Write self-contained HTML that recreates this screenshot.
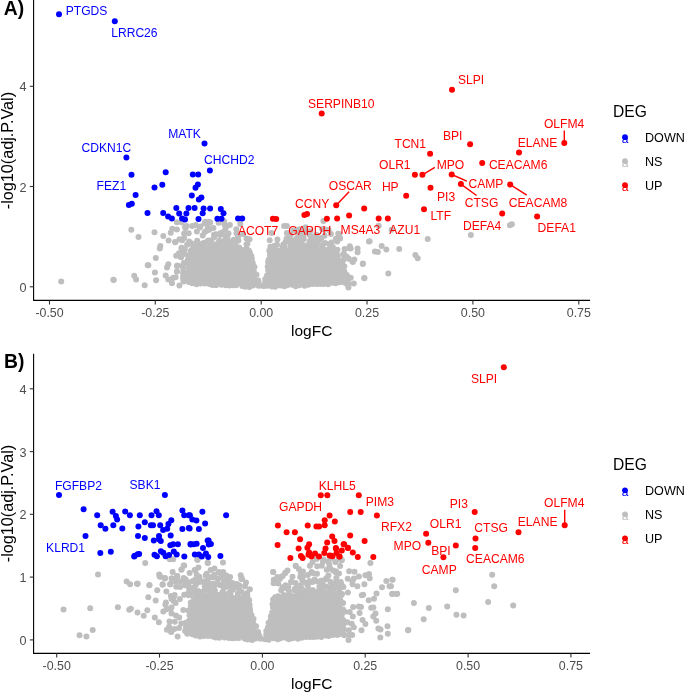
<!DOCTYPE html><html><head><meta charset="utf-8"><style>html,body{margin:0;padding:0;background:#fff;}svg{display:block;will-change:transform;}</style></head><body>
<svg width="685" height="692" viewBox="0 0 685 692" font-family="Liberation Sans, sans-serif">
<rect width="685" height="692" fill="#fff"/>
<g fill="#BEBEBE">
<path d="M186,279 L183.9,282.1 L184.2,282.1 L188.2,282.5 L192.2,282.9 L196.2,283.3 L200.2,283.6 L204.2,284 L208.2,284.3 L212.1,284.5 L216.1,284.8 L220.1,285 L224.1,285.2 L228.1,285.4 L232.1,285.6 L236.1,285.8 L240.1,285.9 L244.1,286 L248,286.1 L252,286.1 L256,286.2 L258.9,286.2 L257.1,278.6 L254.5,270.6 L252.6,262.4 L251.7,255.5 L250.1,251.2 L248.3,249.4 L244.1,250.2 L219.5,247.2 L213.4,245.1 L210.9,244.5 L208.9,247.2 L205.9,253.2 L200.8,259.2 L195.6,268.7 L188.7,271.7 L186,279 Z" fill="#BEBEBE"/>
<circle cx="185.8" cy="278.4" r="3.0"/><circle cx="183.6" cy="281.6" r="3.0"/><circle cx="188.8" cy="282" r="3.0"/><circle cx="192.1" cy="283.3" r="3.0"/><circle cx="196.5" cy="284.2" r="3.0"/><circle cx="200.5" cy="283.5" r="3.0"/><circle cx="204.8" cy="283.4" r="3.0"/><circle cx="209.4" cy="284" r="3.0"/><circle cx="212.4" cy="284.9" r="3.0"/><circle cx="216" cy="285.2" r="3.0"/><circle cx="221.5" cy="284.7" r="3.0"/><circle cx="225.8" cy="285.3" r="3.0"/><circle cx="229.5" cy="285.4" r="3.0"/><circle cx="232.8" cy="285.2" r="3.0"/><circle cx="236.1" cy="285.2" r="3.0"/><circle cx="242.2" cy="286" r="3.0"/><circle cx="245.2" cy="286.8" r="3.0"/><circle cx="249.5" cy="287" r="3.0"/><circle cx="253.1" cy="285.6" r="3.0"/><circle cx="258.3" cy="285.5" r="3.0"/><circle cx="258.8" cy="283.8" r="3.0"/><circle cx="258.3" cy="280.5" r="3.0"/><circle cx="256.5" cy="274.8" r="3.0"/><circle cx="253.9" cy="271.8" r="3.0"/><circle cx="254.5" cy="267.1" r="3.0"/><circle cx="252.8" cy="263.1" r="3.0"/><circle cx="251.9" cy="258.9" r="3.0"/><circle cx="251.4" cy="255.9" r="3.0"/><circle cx="249.8" cy="252.6" r="3.0"/><circle cx="246.8" cy="248.9" r="3.0"/><circle cx="243.2" cy="250" r="3.0"/><circle cx="240.1" cy="249.4" r="3.0"/><circle cx="235.9" cy="250" r="3.0"/><circle cx="230.8" cy="249.4" r="3.0"/><circle cx="227.7" cy="248.6" r="3.0"/><circle cx="223.6" cy="247.5" r="3.0"/><circle cx="218.6" cy="246.4" r="3.0"/><circle cx="214.9" cy="245.2" r="3.0"/><circle cx="210.9" cy="244.1" r="3.0"/><circle cx="209" cy="247.7" r="3.0"/><circle cx="207.7" cy="251.5" r="3.0"/><circle cx="204.2" cy="254.9" r="3.0"/><circle cx="201.7" cy="256.6" r="3.0"/><circle cx="199.6" cy="260.9" r="3.0"/><circle cx="197.1" cy="263.7" r="3.0"/><circle cx="195.8" cy="268.5" r="3.0"/><circle cx="192.5" cy="269.8" r="3.0"/><circle cx="188.7" cy="270.7" r="3.0"/><circle cx="188.2" cy="276" r="3.0"/>
<path d="M263.5,286.2 L264,286.2 L268,286.2 L272,286.1 L276,286.1 L279.9,286 L283.9,285.9 L287.9,285.7 L291.9,285.6 L295.9,285.4 L299.9,285.2 L303.9,285 L307.9,284.7 L311.8,284.5 L315.8,284.2 L319.8,283.9 L323.8,283.6 L327.8,283.2 L331.8,282.8 L335.8,282.4 L339.8,282 L343.8,281.6 L345.4,281.4 L344.3,276.3 L343.5,265.9 L337.9,260 L336.9,253 L334.8,250.9 L329.6,249.2 L314.9,249.2 L300,248.2 L290.3,249.2 L280.2,251.2 L274.8,251.2 L270.6,250.4 L269.6,251.1 L269.2,255.2 L268.8,262.2 L267.6,270.5 L265.3,278.5 L263.5,286.2 Z" fill="#BEBEBE"/>
<circle cx="264" cy="286" r="3.0"/><circle cx="267.4" cy="285.8" r="3.0"/><circle cx="271.9" cy="286.4" r="3.0"/><circle cx="275.2" cy="286.8" r="3.0"/><circle cx="280.1" cy="285.4" r="3.0"/><circle cx="284.3" cy="286.2" r="3.0"/><circle cx="287.2" cy="285.3" r="3.0"/><circle cx="292.2" cy="284.7" r="3.0"/><circle cx="295.6" cy="286.3" r="3.0"/><circle cx="299.3" cy="285.2" r="3.0"/><circle cx="304.6" cy="285.7" r="3.0"/><circle cx="308.4" cy="284.8" r="3.0"/><circle cx="312.7" cy="284" r="3.0"/><circle cx="316.6" cy="284" r="3.0"/><circle cx="320.2" cy="284.1" r="3.0"/><circle cx="323.5" cy="283.9" r="3.0"/><circle cx="328.1" cy="284.2" r="3.0"/><circle cx="332.3" cy="282.7" r="3.0"/><circle cx="335.7" cy="283.2" r="3.0"/><circle cx="339.6" cy="282.3" r="3.0"/><circle cx="344.3" cy="282.5" r="3.0"/><circle cx="344.2" cy="279.2" r="3.0"/><circle cx="343.5" cy="275.2" r="3.0"/><circle cx="344.2" cy="271.3" r="3.0"/><circle cx="344.3" cy="266.3" r="3.0"/><circle cx="342.1" cy="263.4" r="3.0"/><circle cx="338.4" cy="259.9" r="3.0"/><circle cx="337.6" cy="256" r="3.0"/><circle cx="336.5" cy="253.3" r="3.0"/><circle cx="334.3" cy="249.9" r="3.0"/><circle cx="330.5" cy="249.2" r="3.0"/><circle cx="325.4" cy="249.7" r="3.0"/><circle cx="322.4" cy="249.1" r="3.0"/><circle cx="317.9" cy="249.4" r="3.0"/><circle cx="314.1" cy="249.7" r="3.0"/><circle cx="310.4" cy="248.3" r="3.0"/><circle cx="304.9" cy="247.8" r="3.0"/><circle cx="301.4" cy="248.5" r="3.0"/><circle cx="298.7" cy="248.3" r="3.0"/><circle cx="293.5" cy="248.9" r="3.0"/><circle cx="290.7" cy="249.5" r="3.0"/><circle cx="285.4" cy="250.6" r="3.0"/><circle cx="282.9" cy="251.5" r="3.0"/><circle cx="277.7" cy="250.5" r="3.0"/><circle cx="273.8" cy="250.3" r="3.0"/><circle cx="269.3" cy="250.7" r="3.0"/><circle cx="270" cy="255" r="3.0"/><circle cx="268.8" cy="259.5" r="3.0"/><circle cx="268.1" cy="262.1" r="3.0"/><circle cx="267.7" cy="266.7" r="3.0"/><circle cx="268.3" cy="270.3" r="3.0"/><circle cx="267.1" cy="275.3" r="3.0"/><circle cx="265.3" cy="279.1" r="3.0"/><circle cx="265.2" cy="282.2" r="3.0"/>
<path d="M185.3,631.5 L187.2,634.2 L190.3,634.6 L194.3,635.1 L198.2,635.5 L202.2,636 L206.2,636.3 L210.2,636.7 L214.2,637 L218.2,637.4 L222.1,637.6 L226.1,637.9 L230.1,638.1 L234.1,638.3 L238.1,638.5 L242.1,638.7 L246.1,638.8 L250,638.9 L254,638.9 L258,639 L259.5,639 L256.4,628.7 L252.6,619.1 L250,610.6 L250.3,601 L249.1,600.1 L243.6,599.2 L235.9,597.2 L227.7,598.3 L219.9,595.3 L212.1,597.2 L204.4,596.3 L199.4,598.8 L194.9,604.2 L191,612.9 L187.1,622.6 L185.3,631.5 Z" fill="#BEBEBE"/>
<circle cx="185.1" cy="630.9" r="3.0"/><circle cx="187.3" cy="633.8" r="3.0"/><circle cx="192.4" cy="634.3" r="3.0"/><circle cx="195.7" cy="635.6" r="3.0"/><circle cx="200" cy="636.6" r="3.0"/><circle cx="203.8" cy="636" r="3.0"/><circle cx="208.1" cy="635.9" r="3.0"/><circle cx="212.7" cy="636.6" r="3.0"/><circle cx="215.6" cy="637.5" r="3.0"/><circle cx="219.2" cy="637.8" r="3.0"/><circle cx="224.5" cy="637.4" r="3.0"/><circle cx="228.7" cy="638.1" r="3.0"/><circle cx="232.4" cy="638.2" r="3.0"/><circle cx="235.7" cy="638" r="3.0"/><circle cx="238.9" cy="638" r="3.0"/><circle cx="244.9" cy="638.8" r="3.0"/><circle cx="247.8" cy="639.6" r="3.0"/><circle cx="252.1" cy="639.9" r="3.0"/><circle cx="255.6" cy="638.4" r="3.0"/><circle cx="260.3" cy="638" r="3.0"/><circle cx="258.9" cy="635" r="3.0"/><circle cx="258.1" cy="631.9" r="3.0"/><circle cx="256.1" cy="626.2" r="3.0"/><circle cx="253.4" cy="623.4" r="3.0"/><circle cx="253.5" cy="618.9" r="3.0"/><circle cx="251.5" cy="615.1" r="3.0"/><circle cx="250.1" cy="611.1" r="3.0"/><circle cx="249.7" cy="608.2" r="3.0"/><circle cx="249.6" cy="604.7" r="3.0"/><circle cx="248.7" cy="599.9" r="3.0"/><circle cx="245.2" cy="599.3" r="3.0"/><circle cx="242.3" cy="598.4" r="3.0"/><circle cx="238.3" cy="598.6" r="3.0"/><circle cx="233.2" cy="598.2" r="3.0"/><circle cx="230.2" cy="598.5" r="3.0"/><circle cx="226.3" cy="597.5" r="3.0"/><circle cx="221.6" cy="595.5" r="3.0"/><circle cx="217.9" cy="595" r="3.0"/><circle cx="214" cy="596" r="3.0"/><circle cx="210.9" cy="597.6" r="3.0"/><circle cx="207.4" cy="597.3" r="3.0"/><circle cx="202.2" cy="597.6" r="3.0"/><circle cx="198.7" cy="597.9" r="3.0"/><circle cx="196.4" cy="602" r="3.0"/><circle cx="193.6" cy="604.5" r="3.0"/><circle cx="192.6" cy="609.4" r="3.0"/><circle cx="191" cy="612.3" r="3.0"/><circle cx="189.5" cy="615.3" r="3.0"/><circle cx="189" cy="620.7" r="3.0"/><circle cx="187.4" cy="623.4" r="3.0"/><circle cx="186" cy="627.2" r="3.0"/>
<path d="M265,639 L266,639 L270,638.9 L274,638.9 L277.9,638.8 L281.9,638.7 L285.9,638.5 L289.9,638.3 L293.9,638.1 L297.9,637.9 L301.9,637.6 L305.8,637.4 L309.8,637 L313.8,636.7 L317.8,636.3 L321.8,636 L325.8,635.5 L329.7,635.1 L333.7,634.6 L337.7,634.1 L341.7,633.6 L343.7,633.3 L342.8,622.3 L340.8,610.4 L338.9,600.7 L336.3,594.6 L333.4,593.1 L325.9,592.2 L318.3,592.2 L310.4,594.2 L302.4,595.2 L294.1,597.2 L286,596.2 L278.3,597.2 L274,597.9 L273.7,600.4 L272.6,605.7 L270,620.8 L268.1,628.6 L265,639 Z" fill="#BEBEBE"/>
<circle cx="265.4" cy="639.3" r="3.0"/><circle cx="268.7" cy="639.7" r="3.0"/><circle cx="273.5" cy="638.3" r="3.0"/><circle cx="277.7" cy="639.2" r="3.0"/><circle cx="280.5" cy="638.3" r="3.0"/><circle cx="285.5" cy="637.7" r="3.0"/><circle cx="288.9" cy="639.3" r="3.0"/><circle cx="292.5" cy="638.2" r="3.0"/><circle cx="297.8" cy="638.7" r="3.0"/><circle cx="301.6" cy="637.8" r="3.0"/><circle cx="305.9" cy="636.9" r="3.0"/><circle cx="309.8" cy="636.9" r="3.0"/><circle cx="313.3" cy="637" r="3.0"/><circle cx="316.5" cy="636.8" r="3.0"/><circle cx="321.2" cy="637" r="3.0"/><circle cx="325.3" cy="635.5" r="3.0"/><circle cx="328.7" cy="636" r="3.0"/><circle cx="332.6" cy="635" r="3.0"/><circle cx="337.3" cy="635.1" r="3.0"/><circle cx="340.2" cy="634" r="3.0"/><circle cx="342.9" cy="632.4" r="3.0"/><circle cx="343.6" cy="628.7" r="3.0"/><circle cx="343.7" cy="623.7" r="3.0"/><circle cx="343.2" cy="619.9" r="3.0"/><circle cx="341.6" cy="615.5" r="3.0"/><circle cx="341.2" cy="611.3" r="3.0"/><circle cx="340.1" cy="608.7" r="3.0"/><circle cx="340.1" cy="603.8" r="3.0"/><circle cx="339.4" cy="600.4" r="3.0"/><circle cx="336.7" cy="597.4" r="3.0"/><circle cx="335.4" cy="593.9" r="3.0"/><circle cx="331.2" cy="593.1" r="3.0"/><circle cx="327.4" cy="592.9" r="3.0"/><circle cx="323.7" cy="591.6" r="3.0"/><circle cx="318.2" cy="591.4" r="3.0"/><circle cx="314.9" cy="593.1" r="3.0"/><circle cx="312.3" cy="593.8" r="3.0"/><circle cx="307.2" cy="594.7" r="3.0"/><circle cx="304.3" cy="595.2" r="3.0"/><circle cx="299.1" cy="596.4" r="3.0"/><circle cx="296.6" cy="597.4" r="3.0"/><circle cx="291.5" cy="596.3" r="3.0"/><circle cx="287.7" cy="595.7" r="3.0"/><circle cx="283.1" cy="596.4" r="3.0"/><circle cx="280.5" cy="597.4" r="3.0"/><circle cx="275.7" cy="598.5" r="3.0"/><circle cx="273.1" cy="599.5" r="3.0"/><circle cx="272.5" cy="604" r="3.0"/><circle cx="273" cy="607.6" r="3.0"/><circle cx="272.2" cy="612.6" r="3.0"/><circle cx="270.8" cy="616.5" r="3.0"/><circle cx="270.9" cy="619.6" r="3.0"/><circle cx="268.6" cy="622.7" r="3.0"/><circle cx="267.9" cy="627.4" r="3.0"/><circle cx="266.3" cy="631" r="3.0"/><circle cx="266.2" cy="634.8" r="3.0"/>
<path d="M257.2,288.6 L261.2,282.4 L265.2,288.6 Z" fill="#BEBEBE"/>
<path d="M258,641.6 L262.3,635.6 L266.6,641.6 Z" fill="#BEBEBE"/>
<circle cx="61.2" cy="281.5" r="3.0"/><circle cx="113.7" cy="279.9" r="3.0"/><circle cx="131.3" cy="229.7" r="3.0"/><circle cx="138.5" cy="237.1" r="3.0"/><circle cx="147.7" cy="265.2" r="3.0"/><circle cx="134.2" cy="275.7" r="3.0"/><circle cx="136.1" cy="279.4" r="3.0"/><circle cx="144.7" cy="285.3" r="3.0"/><circle cx="113.4" cy="279.8" r="3.0"/><circle cx="154.5" cy="232.3" r="3.0"/><circle cx="163.3" cy="236" r="3.0"/><circle cx="168.6" cy="240.4" r="3.0"/><circle cx="175.2" cy="241.9" r="3.0"/><circle cx="170.7" cy="232.7" r="3.0"/><circle cx="172.3" cy="228.8" r="3.0"/><circle cx="176.9" cy="229.5" r="3.0"/><circle cx="176.9" cy="222.2" r="3.0"/><circle cx="181.5" cy="222.2" r="3.0"/><circle cx="160.4" cy="245.9" r="3.0"/><circle cx="159.8" cy="248.5" r="3.0"/><circle cx="155.8" cy="258.1" r="3.0"/><circle cx="148.4" cy="265.2" r="3.0"/><circle cx="154.9" cy="272.4" r="3.0"/><circle cx="156.1" cy="280.3" r="3.0"/><circle cx="168.3" cy="264.3" r="3.0"/><circle cx="167" cy="267.6" r="3.0"/><circle cx="165.7" cy="275.4" r="3.0"/><circle cx="168.3" cy="279.4" r="3.0"/><circle cx="172.9" cy="278.1" r="3.0"/><circle cx="172" cy="283.3" r="3.0"/><circle cx="177.5" cy="265.6" r="3.0"/><circle cx="176.9" cy="271.5" r="3.0"/><circle cx="184.1" cy="263" r="3.0"/><circle cx="181.5" cy="247.8" r="3.0"/><circle cx="182.8" cy="253.1" r="3.0"/><circle cx="180.8" cy="257" r="3.0"/><circle cx="179.5" cy="239.3" r="3.0"/><circle cx="184.1" cy="238" r="3.0"/><circle cx="185.4" cy="228.1" r="3.0"/><circle cx="184.1" cy="233.4" r="3.0"/><circle cx="184.1" cy="272.8" r="3.0"/><circle cx="177" cy="265.9" r="3.0"/><circle cx="177" cy="271.6" r="3.0"/><circle cx="175.3" cy="242.2" r="3.0"/><circle cx="181" cy="257.2" r="3.0"/><circle cx="183.9" cy="263" r="3.0"/><circle cx="181.6" cy="248.5" r="3.0"/><circle cx="183.4" cy="253.2" r="3.0"/><circle cx="224.5" cy="224.3" r="3.0"/><circle cx="240.3" cy="223.9" r="3.0"/><circle cx="236.3" cy="229.2" r="3.0"/><circle cx="228.5" cy="233.5" r="3.0"/><circle cx="208.8" cy="221.7" r="3.0"/><circle cx="205.3" cy="221.7" r="3.0"/><circle cx="204.7" cy="223.3" r="3.0"/><circle cx="210.2" cy="222.6" r="3.0"/><circle cx="199.8" cy="227.5" r="3.0"/><circle cx="192.2" cy="226.1" r="3.0"/><circle cx="186.6" cy="226.1" r="3.0"/><circle cx="271.6" cy="233" r="3.0"/><circle cx="284.1" cy="226.1" r="3.0"/><circle cx="286.9" cy="226.1" r="3.0"/><circle cx="286.9" cy="233" r="3.0"/><circle cx="323.4" cy="221.1" r="3.0"/><circle cx="338.2" cy="233.7" r="3.0"/><circle cx="339.6" cy="237.9" r="3.0"/><circle cx="349.3" cy="248.3" r="3.0"/><circle cx="343.8" cy="253.8" r="3.0"/><circle cx="339.3" cy="234" r="3.0"/><circle cx="340.1" cy="238.6" r="3.0"/><circle cx="350.7" cy="248.4" r="3.0"/><circle cx="357.6" cy="248.4" r="3.0"/><circle cx="357.6" cy="252.2" r="3.0"/><circle cx="368.9" cy="241.6" r="3.0"/><circle cx="343.1" cy="254.5" r="3.0"/><circle cx="352.2" cy="261.3" r="3.0"/><circle cx="362.9" cy="263.6" r="3.0"/><circle cx="364.4" cy="278" r="3.0"/><circle cx="353.8" cy="283.4" r="3.0"/><circle cx="347.7" cy="279.6" r="3.0"/><circle cx="378.7" cy="225.7" r="3.0"/><circle cx="391.6" cy="229.8" r="3.0"/><circle cx="369.6" cy="241.3" r="3.0"/><circle cx="427.7" cy="238.9" r="3.0"/><circle cx="374.9" cy="251.5" r="3.0"/><circle cx="377.9" cy="251.9" r="3.0"/><circle cx="381.7" cy="246.1" r="3.0"/><circle cx="386.3" cy="249.6" r="3.0"/><circle cx="399.2" cy="248.9" r="3.0"/><circle cx="415.4" cy="254.9" r="3.0"/><circle cx="417.7" cy="258.3" r="3.0"/><circle cx="362.8" cy="263.9" r="3.0"/><circle cx="352.9" cy="262.1" r="3.0"/><circle cx="388.3" cy="273.5" r="3.0"/><circle cx="364.3" cy="278.3" r="3.0"/><circle cx="470.9" cy="235.1" r="3.0"/><circle cx="509.9" cy="225.2" r="3.0"/><circle cx="511.9" cy="224.2" r="3.0"/>
<circle cx="98" cy="574.4" r="3.0"/><circle cx="126.6" cy="581.4" r="3.0"/><circle cx="130.1" cy="584.3" r="3.0"/><circle cx="137.1" cy="583.7" r="3.0"/><circle cx="63.5" cy="609.4" r="3.0"/><circle cx="90.2" cy="608.2" r="3.0"/><circle cx="117.9" cy="607.2" r="3.0"/><circle cx="129.2" cy="609.7" r="3.0"/><circle cx="130.9" cy="608.7" r="3.0"/><circle cx="92.7" cy="630.1" r="3.0"/><circle cx="79.5" cy="635.3" r="3.0"/><circle cx="86.4" cy="636.4" r="3.0"/><circle cx="145.2" cy="562.9" r="3.0"/><circle cx="169.7" cy="559.2" r="3.0"/><circle cx="173.2" cy="559.2" r="3.0"/><circle cx="197.5" cy="560.1" r="3.0"/><circle cx="207.7" cy="562.7" r="3.0"/><circle cx="183.7" cy="565.6" r="3.0"/><circle cx="181.4" cy="569.7" r="3.0"/><circle cx="172.6" cy="572" r="3.0"/><circle cx="159.2" cy="574.4" r="3.0"/><circle cx="160.4" cy="576.7" r="3.0"/><circle cx="165" cy="577.9" r="3.0"/><circle cx="172" cy="578.5" r="3.0"/><circle cx="175.5" cy="581.4" r="3.0"/><circle cx="177.3" cy="576.1" r="3.0"/><circle cx="137.4" cy="583.7" r="3.0"/><circle cx="149.3" cy="584.9" r="3.0"/><circle cx="162.7" cy="584.3" r="3.0"/><circle cx="170.3" cy="584.3" r="3.0"/><circle cx="195.4" cy="570.3" r="3.0"/><circle cx="205.9" cy="575.5" r="3.0"/><circle cx="137.5" cy="583.7" r="3.0"/><circle cx="149.5" cy="585.2" r="3.0"/><circle cx="159.7" cy="576.5" r="3.0"/><circle cx="164.9" cy="578.6" r="3.0"/><circle cx="157.2" cy="590.3" r="3.0"/><circle cx="162.6" cy="584.7" r="3.0"/><circle cx="166.4" cy="591.4" r="3.0"/><circle cx="170" cy="584.2" r="3.0"/><circle cx="171.5" cy="578.6" r="3.0"/><circle cx="175.1" cy="581.1" r="3.0"/><circle cx="177.1" cy="576.5" r="3.0"/><circle cx="148.3" cy="597.3" r="3.0"/><circle cx="155.7" cy="600.5" r="3.0"/><circle cx="165.9" cy="602.6" r="3.0"/><circle cx="165.4" cy="604.6" r="3.0"/><circle cx="137.5" cy="612.6" r="3.0"/><circle cx="143.7" cy="615.7" r="3.0"/><circle cx="147.3" cy="610.3" r="3.0"/><circle cx="154.8" cy="617.4" r="3.0"/><circle cx="158.9" cy="622.2" r="3.0"/><circle cx="163.3" cy="611.5" r="3.0"/><circle cx="166.4" cy="609.2" r="3.0"/><circle cx="171.5" cy="607.5" r="3.0"/><circle cx="169.5" cy="621.5" r="3.0"/><circle cx="174.6" cy="594.9" r="3.0"/><circle cx="175.6" cy="603.1" r="3.0"/><circle cx="171.5" cy="613.6" r="3.0"/><circle cx="166.9" cy="629.7" r="3.0"/><circle cx="171" cy="631.7" r="3.0"/><circle cx="177.6" cy="636.5" r="3.0"/><circle cx="184.3" cy="580.1" r="3.0"/><circle cx="186.3" cy="584.7" r="3.0"/><circle cx="187.3" cy="593.9" r="3.0"/><circle cx="197.3" cy="559.6" r="3.0"/><circle cx="207.8" cy="562.9" r="3.0"/><circle cx="223" cy="562.6" r="3.0"/><circle cx="184.2" cy="565.5" r="3.0"/><circle cx="181.6" cy="569.5" r="3.0"/><circle cx="177" cy="576" r="3.0"/><circle cx="194.7" cy="570.1" r="3.0"/><circle cx="196.7" cy="574.7" r="3.0"/><circle cx="205.9" cy="575.4" r="3.0"/><circle cx="214.4" cy="574.7" r="3.0"/><circle cx="219" cy="572.1" r="3.0"/><circle cx="185.5" cy="579.3" r="3.0"/><circle cx="187.5" cy="582" r="3.0"/><circle cx="224.3" cy="583.2" r="3.0"/><circle cx="234.1" cy="587.2" r="3.0"/><circle cx="242" cy="578.7" r="3.0"/><circle cx="246" cy="582.6" r="3.0"/><circle cx="249.9" cy="589.2" r="3.0"/><circle cx="273.1" cy="572" r="3.0"/><circle cx="295.8" cy="565.8" r="3.0"/><circle cx="301.9" cy="572" r="3.0"/><circle cx="301.9" cy="576.1" r="3.0"/><circle cx="311.5" cy="572" r="3.0"/><circle cx="285.5" cy="572.7" r="3.0"/><circle cx="282.7" cy="576.1" r="3.0"/><circle cx="280" cy="578.8" r="3.0"/><circle cx="295.7" cy="566.1" r="3.0"/><circle cx="273.3" cy="571.9" r="3.0"/><circle cx="287.5" cy="570.5" r="3.0"/><circle cx="285.2" cy="572.9" r="3.0"/><circle cx="281.1" cy="577" r="3.0"/><circle cx="274.7" cy="581.1" r="3.0"/><circle cx="278.2" cy="583.4" r="3.0"/><circle cx="316.7" cy="558.9" r="3.0"/><circle cx="323.7" cy="559.5" r="3.0"/><circle cx="328.4" cy="561.8" r="3.0"/><circle cx="335.4" cy="561.8" r="3.0"/><circle cx="341.8" cy="560" r="3.0"/><circle cx="340.1" cy="565.9" r="3.0"/><circle cx="335.5" cy="562" r="3.0"/><circle cx="341.6" cy="560.2" r="3.0"/><circle cx="370.4" cy="563" r="3.0"/><circle cx="354.5" cy="571.7" r="3.0"/><circle cx="358.9" cy="576.5" r="3.0"/><circle cx="365.4" cy="575.3" r="3.0"/><circle cx="369" cy="573.9" r="3.0"/><circle cx="369.7" cy="578.2" r="3.0"/><circle cx="386.3" cy="581.1" r="3.0"/><circle cx="392.4" cy="579.7" r="3.0"/><circle cx="382" cy="587.3" r="3.0"/><circle cx="389.5" cy="586.2" r="3.0"/><circle cx="364.4" cy="584.3" r="3.0"/><circle cx="357.4" cy="586.2" r="3.0"/><circle cx="352.4" cy="581.4" r="3.0"/><circle cx="376.5" cy="593.4" r="3.0"/><circle cx="374" cy="598.7" r="3.0"/><circle cx="368.7" cy="600.2" r="3.0"/><circle cx="392.1" cy="594.1" r="3.0"/><circle cx="396.4" cy="594.1" r="3.0"/><circle cx="361.8" cy="595.3" r="3.0"/><circle cx="363.2" cy="594.8" r="3.0"/><circle cx="387.8" cy="609.3" r="3.0"/><circle cx="371.2" cy="607.8" r="3.0"/><circle cx="373.3" cy="607.4" r="3.0"/><circle cx="375.5" cy="613.6" r="3.0"/><circle cx="373.3" cy="616.5" r="3.0"/><circle cx="359.6" cy="612.9" r="3.0"/><circle cx="376.2" cy="620.8" r="3.0"/><circle cx="362.5" cy="620.1" r="3.0"/><circle cx="365.4" cy="624.1" r="3.0"/><circle cx="387.5" cy="626.2" r="3.0"/><circle cx="378.4" cy="628.5" r="3.0"/><circle cx="380.5" cy="629.5" r="3.0"/><circle cx="387.8" cy="633.8" r="3.0"/><circle cx="380.3" cy="637.4" r="3.0"/><circle cx="361.5" cy="630.2" r="3.0"/><circle cx="408" cy="630.2" r="3.0"/><circle cx="353.1" cy="607.1" r="3.0"/><circle cx="358.9" cy="606.4" r="3.0"/><circle cx="361" cy="607.1" r="3.0"/><circle cx="351.7" cy="623.7" r="3.0"/><circle cx="353.8" cy="627.3" r="3.0"/><circle cx="348.8" cy="630.2" r="3.0"/><circle cx="344.4" cy="635.3" r="3.0"/><circle cx="492.2" cy="574.7" r="3.0"/><circle cx="494.2" cy="586.2" r="3.0"/><circle cx="455.8" cy="590.2" r="3.0"/><circle cx="488.1" cy="601.9" r="3.0"/><circle cx="513.2" cy="605.6" r="3.0"/><circle cx="413.9" cy="602.9" r="3.0"/><circle cx="428.8" cy="608" r="3.0"/><circle cx="447.2" cy="606.4" r="3.0"/><circle cx="456.4" cy="614.8" r="3.0"/><circle cx="463.6" cy="615.6" r="3.0"/><circle cx="423.7" cy="619.3" r="3.0"/><circle cx="408.4" cy="630.1" r="3.0"/><circle cx="392.5" cy="579.8" r="3.0"/><circle cx="391" cy="586.2" r="3.0"/><circle cx="392.5" cy="593.7" r="3.0"/><circle cx="397.2" cy="593.7" r="3.0"/>
<circle cx="185.1" cy="226.8" r="3.0"/><circle cx="182.5" cy="248.7" r="3.0"/><circle cx="184.8" cy="249.6" r="3.0"/><circle cx="184.7" cy="253.9" r="3.0"/><circle cx="182.5" cy="265.7" r="3.0"/><circle cx="183.1" cy="272.6" r="3.0"/><circle cx="183.1" cy="276.2" r="3.0"/><circle cx="183.1" cy="279.1" r="3.0"/><circle cx="188.7" cy="233.3" r="3.0"/><circle cx="189.2" cy="241.5" r="3.0"/><circle cx="187.1" cy="244.7" r="3.0"/><circle cx="188.7" cy="255.3" r="3.0"/><circle cx="187.9" cy="259.6" r="3.0"/><circle cx="187.9" cy="264.1" r="3.0"/><circle cx="188.6" cy="268.9" r="3.0"/><circle cx="187.8" cy="273.4" r="3.0"/><circle cx="191.2" cy="243.3" r="3.0"/><circle cx="191.9" cy="249.9" r="3.0"/><circle cx="190.9" cy="250.9" r="3.0"/><circle cx="192.7" cy="256.4" r="3.0"/><circle cx="192.4" cy="258.3" r="3.0"/><circle cx="192.6" cy="263" r="3.0"/><circle cx="190.5" cy="266.5" r="3.0"/><circle cx="195.7" cy="225" r="3.0"/><circle cx="193.4" cy="246.7" r="3.0"/><circle cx="193.8" cy="249.2" r="3.0"/><circle cx="194.3" cy="252.3" r="3.0"/><circle cx="195.2" cy="256.7" r="3.0"/><circle cx="193.3" cy="259.1" r="3.0"/><circle cx="195.1" cy="264.7" r="3.0"/><circle cx="195.8" cy="268.2" r="3.0"/><circle cx="196.9" cy="231.5" r="3.0"/><circle cx="197.2" cy="240.7" r="3.0"/><circle cx="197" cy="242.8" r="3.0"/><circle cx="197.3" cy="246.8" r="3.0"/><circle cx="198.3" cy="250.5" r="3.0"/><circle cx="196.9" cy="254.3" r="3.0"/><circle cx="197.4" cy="257" r="3.0"/><circle cx="198.4" cy="261" r="3.0"/><circle cx="200.5" cy="226.6" r="3.0"/><circle cx="202.7" cy="235.5" r="3.0"/><circle cx="203.5" cy="243.1" r="3.0"/><circle cx="201.1" cy="246.2" r="3.0"/><circle cx="202.2" cy="248.7" r="3.0"/><circle cx="200.6" cy="252.3" r="3.0"/><circle cx="207" cy="230.6" r="3.0"/><circle cx="204.8" cy="231.9" r="3.0"/><circle cx="206.6" cy="242.1" r="3.0"/><circle cx="204.5" cy="245.4" r="3.0"/><circle cx="205.6" cy="251.1" r="3.0"/><circle cx="209.8" cy="222.8" r="3.0"/><circle cx="207.9" cy="227.2" r="3.0"/><circle cx="209.2" cy="229.7" r="3.0"/><circle cx="208.2" cy="240.5" r="3.0"/><circle cx="213.4" cy="228.1" r="3.0"/><circle cx="214" cy="234.8" r="3.0"/><circle cx="214.4" cy="236.9" r="3.0"/><circle cx="211.5" cy="240.3" r="3.0"/><circle cx="215.9" cy="234.2" r="3.0"/><circle cx="217.9" cy="243.3" r="3.0"/><circle cx="216.6" cy="244.4" r="3.0"/><circle cx="218.6" cy="222.7" r="3.0"/><circle cx="220.4" cy="233.2" r="3.0"/><circle cx="220.2" cy="235" r="3.0"/><circle cx="219.3" cy="240.8" r="3.0"/><circle cx="221.4" cy="243" r="3.0"/><circle cx="220.9" cy="247.7" r="3.0"/><circle cx="224.1" cy="221.3" r="3.0"/><circle cx="224.8" cy="224.7" r="3.0"/><circle cx="225.2" cy="229.5" r="3.0"/><circle cx="222.5" cy="232.6" r="3.0"/><circle cx="224.9" cy="240.2" r="3.0"/><circle cx="227.1" cy="226" r="3.0"/><circle cx="225.6" cy="236" r="3.0"/><circle cx="227.5" cy="237.9" r="3.0"/><circle cx="225.8" cy="243" r="3.0"/><circle cx="229.9" cy="225.1" r="3.0"/><circle cx="230.9" cy="242.1" r="3.0"/><circle cx="229.5" cy="245.6" r="3.0"/><circle cx="233.8" cy="239.7" r="3.0"/><circle cx="235.5" cy="245.1" r="3.0"/><circle cx="233.9" cy="247.6" r="3.0"/><circle cx="236.5" cy="233.3" r="3.0"/><circle cx="238.2" cy="236.3" r="3.0"/><circle cx="238.4" cy="240.6" r="3.0"/><circle cx="239.2" cy="247.4" r="3.0"/><circle cx="243" cy="234.1" r="3.0"/><circle cx="240.3" cy="249.6" r="3.0"/><circle cx="246.5" cy="238.4" r="3.0"/><circle cx="246.5" cy="244.5" r="3.0"/><circle cx="246" cy="251.3" r="3.0"/><circle cx="249.5" cy="239.3" r="3.0"/><circle cx="247.4" cy="243.8" r="3.0"/><circle cx="248.9" cy="250.7" r="3.0"/><circle cx="269.7" cy="240.3" r="3.0"/><circle cx="270.4" cy="246.7" r="3.0"/><circle cx="271.3" cy="248.9" r="3.0"/><circle cx="274.4" cy="245.7" r="3.0"/><circle cx="273.1" cy="249.9" r="3.0"/><circle cx="277.4" cy="239.5" r="3.0"/><circle cx="277" cy="244.7" r="3.0"/><circle cx="277.2" cy="253.1" r="3.0"/><circle cx="283.3" cy="244.6" r="3.0"/><circle cx="282.6" cy="247.4" r="3.0"/><circle cx="281.9" cy="250.3" r="3.0"/><circle cx="286.6" cy="238.4" r="3.0"/><circle cx="285.6" cy="242" r="3.0"/><circle cx="284.5" cy="247.3" r="3.0"/><circle cx="284.3" cy="252.8" r="3.0"/><circle cx="290.5" cy="235.5" r="3.0"/><circle cx="289.1" cy="238.9" r="3.0"/><circle cx="288.4" cy="241.1" r="3.0"/><circle cx="290.4" cy="246" r="3.0"/><circle cx="290" cy="249.9" r="3.0"/><circle cx="293.4" cy="230.4" r="3.0"/><circle cx="291.7" cy="240.3" r="3.0"/><circle cx="292.7" cy="243.8" r="3.0"/><circle cx="291.7" cy="247.5" r="3.0"/><circle cx="293.3" cy="248.4" r="3.0"/><circle cx="296.8" cy="230.9" r="3.0"/><circle cx="296.9" cy="237.9" r="3.0"/><circle cx="297.2" cy="241.9" r="3.0"/><circle cx="296.8" cy="246.3" r="3.0"/><circle cx="297.8" cy="249.1" r="3.0"/><circle cx="299.3" cy="229.3" r="3.0"/><circle cx="299.3" cy="234.7" r="3.0"/><circle cx="300.7" cy="240.5" r="3.0"/><circle cx="301" cy="247.6" r="3.0"/><circle cx="303.9" cy="231.7" r="3.0"/><circle cx="303.2" cy="237.1" r="3.0"/><circle cx="303.7" cy="239.1" r="3.0"/><circle cx="302.3" cy="244.5" r="3.0"/><circle cx="303.7" cy="246.4" r="3.0"/><circle cx="303.6" cy="249.1" r="3.0"/><circle cx="305.5" cy="227.2" r="3.0"/><circle cx="307.4" cy="231.9" r="3.0"/><circle cx="306.8" cy="245.5" r="3.0"/><circle cx="307.4" cy="250.9" r="3.0"/><circle cx="310.4" cy="231.3" r="3.0"/><circle cx="309.1" cy="234.5" r="3.0"/><circle cx="311.3" cy="237.6" r="3.0"/><circle cx="309.6" cy="241.2" r="3.0"/><circle cx="310.7" cy="245.5" r="3.0"/><circle cx="311.1" cy="248.3" r="3.0"/><circle cx="314.2" cy="236.5" r="3.0"/><circle cx="313.9" cy="240" r="3.0"/><circle cx="312.9" cy="244.4" r="3.0"/><circle cx="314.3" cy="248.4" r="3.0"/><circle cx="316.3" cy="234.7" r="3.0"/><circle cx="317.2" cy="238.8" r="3.0"/><circle cx="316.3" cy="241.2" r="3.0"/><circle cx="317.8" cy="244" r="3.0"/><circle cx="316.4" cy="247.8" r="3.0"/><circle cx="322.2" cy="229.1" r="3.0"/><circle cx="321.3" cy="238.1" r="3.0"/><circle cx="320.2" cy="239.6" r="3.0"/><circle cx="322.5" cy="244.9" r="3.0"/><circle cx="325.5" cy="229.5" r="3.0"/><circle cx="324.5" cy="235.7" r="3.0"/><circle cx="325.1" cy="242.9" r="3.0"/><circle cx="326.4" cy="251.3" r="3.0"/><circle cx="328.6" cy="230" r="3.0"/><circle cx="329.6" cy="243.9" r="3.0"/><circle cx="330.2" cy="247.6" r="3.0"/><circle cx="330.9" cy="234" r="3.0"/><circle cx="331.5" cy="242.6" r="3.0"/><circle cx="332.8" cy="246.9" r="3.0"/><circle cx="331" cy="250.8" r="3.0"/><circle cx="335.9" cy="238.8" r="3.0"/><circle cx="337.1" cy="241.6" r="3.0"/><circle cx="337.4" cy="249.8" r="3.0"/><circle cx="334.7" cy="252.3" r="3.0"/><circle cx="188.4" cy="585.1" r="3.0"/><circle cx="189.1" cy="589.2" r="3.0"/><circle cx="191.1" cy="591.1" r="3.0"/><circle cx="188.9" cy="595.2" r="3.0"/><circle cx="190.8" cy="602.5" r="3.0"/><circle cx="190.8" cy="605.9" r="3.0"/><circle cx="188.5" cy="610.4" r="3.0"/><circle cx="190.7" cy="614" r="3.0"/><circle cx="195" cy="579.8" r="3.0"/><circle cx="192.4" cy="581.3" r="3.0"/><circle cx="194" cy="588.8" r="3.0"/><circle cx="193.2" cy="592.5" r="3.0"/><circle cx="193.9" cy="597.9" r="3.0"/><circle cx="195" cy="601.3" r="3.0"/><circle cx="198.4" cy="567.5" r="3.0"/><circle cx="198.3" cy="580.6" r="3.0"/><circle cx="195.8" cy="585.1" r="3.0"/><circle cx="198.2" cy="590.9" r="3.0"/><circle cx="196.5" cy="595.7" r="3.0"/><circle cx="195.7" cy="598.8" r="3.0"/><circle cx="197.9" cy="601.5" r="3.0"/><circle cx="199.4" cy="576.7" r="3.0"/><circle cx="199.8" cy="579.7" r="3.0"/><circle cx="199.7" cy="582.1" r="3.0"/><circle cx="202.3" cy="592.1" r="3.0"/><circle cx="200.7" cy="594.5" r="3.0"/><circle cx="201.1" cy="598.2" r="3.0"/><circle cx="203.8" cy="581.5" r="3.0"/><circle cx="204.6" cy="582" r="3.0"/><circle cx="204.7" cy="585.7" r="3.0"/><circle cx="204.8" cy="589.4" r="3.0"/><circle cx="204.3" cy="595" r="3.0"/><circle cx="206.6" cy="573.8" r="3.0"/><circle cx="207.9" cy="580.7" r="3.0"/><circle cx="207.6" cy="583.4" r="3.0"/><circle cx="208.3" cy="587" r="3.0"/><circle cx="208.9" cy="589.7" r="3.0"/><circle cx="208.8" cy="594.2" r="3.0"/><circle cx="210.6" cy="570.1" r="3.0"/><circle cx="211" cy="577" r="3.0"/><circle cx="212.7" cy="583.7" r="3.0"/><circle cx="212.1" cy="589.6" r="3.0"/><circle cx="210.7" cy="590.7" r="3.0"/><circle cx="210.6" cy="596.5" r="3.0"/><circle cx="214.5" cy="568.4" r="3.0"/><circle cx="214" cy="577.6" r="3.0"/><circle cx="214.7" cy="585.2" r="3.0"/><circle cx="214.9" cy="590.4" r="3.0"/><circle cx="213.6" cy="594.1" r="3.0"/><circle cx="216.8" cy="596" r="3.0"/><circle cx="219.6" cy="573.1" r="3.0"/><circle cx="218.1" cy="578.7" r="3.0"/><circle cx="217.4" cy="583.1" r="3.0"/><circle cx="219.8" cy="585" r="3.0"/><circle cx="220.2" cy="594.9" r="3.0"/><circle cx="223.2" cy="572.1" r="3.0"/><circle cx="222.9" cy="576.8" r="3.0"/><circle cx="223.8" cy="580.7" r="3.0"/><circle cx="221.6" cy="585.1" r="3.0"/><circle cx="223.3" cy="587" r="3.0"/><circle cx="222.5" cy="592.1" r="3.0"/><circle cx="223.3" cy="596.1" r="3.0"/><circle cx="226.4" cy="575.4" r="3.0"/><circle cx="225.3" cy="577.1" r="3.0"/><circle cx="225.8" cy="581.3" r="3.0"/><circle cx="224.6" cy="587.4" r="3.0"/><circle cx="224.6" cy="593.7" r="3.0"/><circle cx="224.7" cy="595.8" r="3.0"/><circle cx="230.1" cy="577" r="3.0"/><circle cx="228.6" cy="579.8" r="3.0"/><circle cx="229.8" cy="584.6" r="3.0"/><circle cx="228.3" cy="586.5" r="3.0"/><circle cx="229.9" cy="592" r="3.0"/><circle cx="230.6" cy="595.1" r="3.0"/><circle cx="229.2" cy="598.3" r="3.0"/><circle cx="232.4" cy="583" r="3.0"/><circle cx="233" cy="589.8" r="3.0"/><circle cx="236.7" cy="584.1" r="3.0"/><circle cx="238" cy="593.4" r="3.0"/><circle cx="237.5" cy="596.3" r="3.0"/><circle cx="240.7" cy="575.2" r="3.0"/><circle cx="241.3" cy="578.9" r="3.0"/><circle cx="239.1" cy="585.2" r="3.0"/><circle cx="238.9" cy="588.6" r="3.0"/><circle cx="241.5" cy="591.7" r="3.0"/><circle cx="244.9" cy="586.2" r="3.0"/><circle cx="244.8" cy="594.8" r="3.0"/><circle cx="243.4" cy="597.2" r="3.0"/><circle cx="243.2" cy="599.6" r="3.0"/><circle cx="247.2" cy="593.1" r="3.0"/><circle cx="247.3" cy="595.7" r="3.0"/><circle cx="249.1" cy="600.3" r="3.0"/><circle cx="273.7" cy="579.7" r="3.0"/><circle cx="273.6" cy="583.3" r="3.0"/><circle cx="275.1" cy="597.3" r="3.0"/><circle cx="277.3" cy="577" r="3.0"/><circle cx="278" cy="596.3" r="3.0"/><circle cx="282.5" cy="587.2" r="3.0"/><circle cx="281.2" cy="590.2" r="3.0"/><circle cx="283.6" cy="595.1" r="3.0"/><circle cx="281.6" cy="598.8" r="3.0"/><circle cx="285.5" cy="585.2" r="3.0"/><circle cx="284.7" cy="587.9" r="3.0"/><circle cx="284.3" cy="596.1" r="3.0"/><circle cx="291" cy="582.1" r="3.0"/><circle cx="288.4" cy="587.1" r="3.0"/><circle cx="288.9" cy="591.1" r="3.0"/><circle cx="289.6" cy="595.2" r="3.0"/><circle cx="288" cy="596.6" r="3.0"/><circle cx="292.5" cy="576.7" r="3.0"/><circle cx="291.5" cy="581.9" r="3.0"/><circle cx="294.5" cy="590.6" r="3.0"/><circle cx="294.5" cy="596.6" r="3.0"/><circle cx="295.6" cy="582.9" r="3.0"/><circle cx="296.2" cy="588.2" r="3.0"/><circle cx="295" cy="588.8" r="3.0"/><circle cx="297.5" cy="593.5" r="3.0"/><circle cx="295.3" cy="599" r="3.0"/><circle cx="298.8" cy="569.1" r="3.0"/><circle cx="300.8" cy="573" r="3.0"/><circle cx="300.2" cy="576.9" r="3.0"/><circle cx="300.3" cy="585.8" r="3.0"/><circle cx="301.8" cy="588.4" r="3.0"/><circle cx="299.9" cy="590.6" r="3.0"/><circle cx="299.4" cy="596.9" r="3.0"/><circle cx="303" cy="571.5" r="3.0"/><circle cx="302.9" cy="577.1" r="3.0"/><circle cx="302.4" cy="580.9" r="3.0"/><circle cx="305.4" cy="582.8" r="3.0"/><circle cx="304.7" cy="591.1" r="3.0"/><circle cx="302.5" cy="593" r="3.0"/><circle cx="307.9" cy="575.1" r="3.0"/><circle cx="307.9" cy="585.5" r="3.0"/><circle cx="308.8" cy="590" r="3.0"/><circle cx="308.9" cy="593.6" r="3.0"/><circle cx="305.9" cy="597" r="3.0"/><circle cx="312.5" cy="562.2" r="3.0"/><circle cx="309.9" cy="565.7" r="3.0"/><circle cx="309.4" cy="581" r="3.0"/><circle cx="312.2" cy="582" r="3.0"/><circle cx="312.2" cy="590.6" r="3.0"/><circle cx="310" cy="594.6" r="3.0"/><circle cx="313.1" cy="573.2" r="3.0"/><circle cx="314.6" cy="579.4" r="3.0"/><circle cx="313.4" cy="581.4" r="3.0"/><circle cx="313" cy="590.2" r="3.0"/><circle cx="313.3" cy="592.8" r="3.0"/><circle cx="317.3" cy="566.2" r="3.0"/><circle cx="317" cy="573.8" r="3.0"/><circle cx="318" cy="581.7" r="3.0"/><circle cx="319.4" cy="586.8" r="3.0"/><circle cx="319.3" cy="591.2" r="3.0"/><circle cx="323" cy="561.6" r="3.0"/><circle cx="321.8" cy="565.7" r="3.0"/><circle cx="321.2" cy="580.7" r="3.0"/><circle cx="322.5" cy="584.1" r="3.0"/><circle cx="321" cy="588.9" r="3.0"/><circle cx="322.7" cy="593" r="3.0"/><circle cx="326.7" cy="569.7" r="3.0"/><circle cx="326.6" cy="577.9" r="3.0"/><circle cx="325.2" cy="579.5" r="3.0"/><circle cx="325.9" cy="586.6" r="3.0"/><circle cx="324.3" cy="592.4" r="3.0"/><circle cx="330.3" cy="558.6" r="3.0"/><circle cx="329.4" cy="564.9" r="3.0"/><circle cx="330.4" cy="568.8" r="3.0"/><circle cx="328.4" cy="575.5" r="3.0"/><circle cx="330.4" cy="581.7" r="3.0"/><circle cx="330.5" cy="586.7" r="3.0"/><circle cx="329" cy="591.6" r="3.0"/><circle cx="333.1" cy="570.6" r="3.0"/><circle cx="334" cy="584.1" r="3.0"/><circle cx="333.9" cy="588.7" r="3.0"/><circle cx="331.7" cy="591.1" r="3.0"/><circle cx="335.9" cy="571.3" r="3.0"/><circle cx="335.9" cy="572.4" r="3.0"/><circle cx="336.3" cy="578.1" r="3.0"/><circle cx="335.8" cy="582.6" r="3.0"/><circle cx="335.1" cy="583.3" r="3.0"/><circle cx="336.5" cy="594.9" r="3.0"/><circle cx="339" cy="558.9" r="3.0"/><circle cx="339" cy="573.6" r="3.0"/><circle cx="340.7" cy="582" r="3.0"/><circle cx="341.3" cy="584.3" r="3.0"/><circle cx="338.7" cy="587.3" r="3.0"/><circle cx="339.2" cy="591" r="3.0"/><circle cx="341.4" cy="595.1" r="3.0"/><circle cx="340.4" cy="600.2" r="3.0"/><circle cx="343.4" cy="586.9" r="3.0"/><circle cx="342" cy="594.1" r="3.0"/><circle cx="343.1" cy="603" r="3.0"/><circle cx="343" cy="609.4" r="3.0"/><circle cx="344.6" cy="611.7" r="3.0"/>
<circle cx="349.8" cy="246.2" r="3.0"/><circle cx="344.6" cy="249.1" r="3.0"/><circle cx="346.7" cy="256.5" r="3.0"/><circle cx="343.6" cy="259.7" r="3.0"/><circle cx="348.8" cy="258.8" r="3.0"/><circle cx="354.3" cy="259.4" r="3.0"/><circle cx="346.8" cy="275" r="3.0"/><circle cx="344.3" cy="277.3" r="3.0"/><circle cx="350.7" cy="277.7" r="3.0"/><circle cx="346.7" cy="283.7" r="3.0"/><circle cx="348.9" cy="283.9" r="3.0"/><circle cx="348.4" cy="287.6" r="3.0"/><circle cx="182.2" cy="240.2" r="3.0"/><circle cx="188.2" cy="244.1" r="3.0"/><circle cx="198.6" cy="243.8" r="3.0"/><circle cx="191.6" cy="251.1" r="3.0"/><circle cx="176.2" cy="255.8" r="3.0"/><circle cx="179" cy="253.2" r="3.0"/><circle cx="193.6" cy="253" r="3.0"/><circle cx="198.6" cy="254.1" r="3.0"/><circle cx="193.7" cy="260.5" r="3.0"/><circle cx="183" cy="267.8" r="3.0"/><circle cx="175.6" cy="277.2" r="3.0"/><circle cx="179.4" cy="285.6" r="3.0"/><circle cx="349.2" cy="571.2" r="3.0"/><circle cx="347.7" cy="578.7" r="3.0"/><circle cx="353.9" cy="578.6" r="3.0"/><circle cx="352.5" cy="584.2" r="3.0"/><circle cx="347.9" cy="592.5" r="3.0"/><circle cx="349.7" cy="612" r="3.0"/><circle cx="352.8" cy="616.4" r="3.0"/><circle cx="347.4" cy="622.2" r="3.0"/><circle cx="349.2" cy="634.8" r="3.0"/><circle cx="352.2" cy="635.1" r="3.0"/><circle cx="348.5" cy="639.9" r="3.0"/><circle cx="189.6" cy="573.1" r="3.0"/><circle cx="183.6" cy="577.9" r="3.0"/><circle cx="180.4" cy="581.5" r="3.0"/><circle cx="188.1" cy="583.1" r="3.0"/><circle cx="176.2" cy="586.8" r="3.0"/><circle cx="180" cy="586.9" r="3.0"/><circle cx="184.9" cy="585.2" r="3.0"/><circle cx="192.7" cy="587.9" r="3.0"/><circle cx="170.9" cy="596" r="3.0"/><circle cx="173.9" cy="596.8" r="3.0"/><circle cx="184.2" cy="594.7" r="3.0"/><circle cx="171.6" cy="598.9" r="3.0"/><circle cx="173.7" cy="601" r="3.0"/><circle cx="179.9" cy="598.9" r="3.0"/><circle cx="170.5" cy="608.6" r="3.0"/><circle cx="183.3" cy="610.1" r="3.0"/><circle cx="175.9" cy="615.4" r="3.0"/><circle cx="179.2" cy="617.6" r="3.0"/><circle cx="174.8" cy="621.7" r="3.0"/><circle cx="181.3" cy="623.5" r="3.0"/><circle cx="185.8" cy="622.7" r="3.0"/><circle cx="169.1" cy="626.7" r="3.0"/><circle cx="174.3" cy="629" r="3.0"/><circle cx="179" cy="628.1" r="3.0"/><circle cx="171.4" cy="632" r="3.0"/>
</g>
<g fill="#0000FF"><circle cx="59" cy="14.2" r="3.0"/><circle cx="114.8" cy="21.2" r="3.0"/><circle cx="126.4" cy="157.6" r="3.0"/><circle cx="204.5" cy="143.4" r="3.0"/><circle cx="209.9" cy="170.4" r="3.0"/><circle cx="131.5" cy="174.7" r="3.0"/><circle cx="165.7" cy="172.2" r="3.0"/><circle cx="192.8" cy="174.5" r="3.0"/><circle cx="198.2" cy="174.5" r="3.0"/><circle cx="154.5" cy="187.4" r="3.0"/><circle cx="162.3" cy="184.7" r="3.0"/><circle cx="197.9" cy="184.5" r="3.0"/><circle cx="195.5" cy="187.8" r="3.0"/><circle cx="135.6" cy="194.9" r="3.0"/><circle cx="191.8" cy="195.4" r="3.0"/><circle cx="201.4" cy="197.4" r="3.0"/><circle cx="198.8" cy="199.4" r="3.0"/><circle cx="131.8" cy="203.8" r="3.0"/><circle cx="128.9" cy="204.9" r="3.0"/><circle cx="147.5" cy="213.1" r="3.0"/><circle cx="163.2" cy="213.1" r="3.0"/><circle cx="168.1" cy="216.6" r="3.0"/><circle cx="171.9" cy="218.5" r="3.0"/><circle cx="176.3" cy="208.1" r="3.0"/><circle cx="188.5" cy="208.1" r="3.0"/><circle cx="194.6" cy="207.9" r="3.0"/><circle cx="203.6" cy="208.4" r="3.0"/><circle cx="210.1" cy="208.6" r="3.0"/><circle cx="220.8" cy="209" r="3.0"/><circle cx="179.2" cy="213.4" r="3.0"/><circle cx="186.4" cy="213.4" r="3.0"/><circle cx="202.7" cy="213.3" r="3.0"/><circle cx="223.5" cy="213.3" r="3.0"/><circle cx="182.1" cy="218.4" r="3.0"/><circle cx="185" cy="219.5" r="3.0"/><circle cx="198.5" cy="218.9" r="3.0"/><circle cx="217.4" cy="218.7" r="3.0"/><circle cx="221.5" cy="218.7" r="3.0"/><circle cx="238" cy="218.6" r="3.0"/><circle cx="242.2" cy="218.6" r="3.0"/><circle cx="59" cy="495.1" r="3.0"/><circle cx="164.9" cy="495.1" r="3.0"/><circle cx="83.6" cy="509.2" r="3.0"/><circle cx="97.2" cy="515.3" r="3.0"/><circle cx="112.6" cy="511.8" r="3.0"/><circle cx="115.9" cy="515.9" r="3.0"/><circle cx="117.1" cy="519.4" r="3.0"/><circle cx="100.7" cy="525.2" r="3.0"/><circle cx="105.4" cy="528.7" r="3.0"/><circle cx="113.3" cy="525.2" r="3.0"/><circle cx="85.5" cy="536" r="3.0"/><circle cx="122.3" cy="528.4" r="3.0"/><circle cx="125.2" cy="511.4" r="3.0"/><circle cx="129.9" cy="515.3" r="3.0"/><circle cx="139.8" cy="515.3" r="3.0"/><circle cx="138.4" cy="526.4" r="3.0"/><circle cx="144.8" cy="522.3" r="3.0"/><circle cx="138" cy="536" r="3.0"/><circle cx="144.8" cy="538.1" r="3.0"/><circle cx="151.5" cy="515.3" r="3.0"/><circle cx="156.5" cy="511.2" r="3.0"/><circle cx="158.8" cy="515.3" r="3.0"/><circle cx="150.9" cy="525.2" r="3.0"/><circle cx="153" cy="525.2" r="3.0"/><circle cx="160.2" cy="525.2" r="3.0"/><circle cx="163.1" cy="529.9" r="3.0"/><circle cx="167.2" cy="528.7" r="3.0"/><circle cx="168.4" cy="524" r="3.0"/><circle cx="171.3" cy="520.3" r="3.0"/><circle cx="170.7" cy="535.5" r="3.0"/><circle cx="159" cy="536" r="3.0"/><circle cx="153.8" cy="540.4" r="3.0"/><circle cx="159" cy="539.2" r="3.0"/><circle cx="160.8" cy="541" r="3.0"/><circle cx="182.4" cy="510.6" r="3.0"/><circle cx="184.2" cy="515.3" r="3.0"/><circle cx="188.8" cy="515.3" r="3.0"/><circle cx="182.4" cy="529" r="3.0"/><circle cx="188.8" cy="528.1" r="3.0"/><circle cx="100.3" cy="553" r="3.0"/><circle cx="110.8" cy="551.8" r="3.0"/><circle cx="134.2" cy="556.6" r="3.0"/><circle cx="137.7" cy="554.3" r="3.0"/><circle cx="170.3" cy="545.2" r="3.0"/><circle cx="173.2" cy="544.2" r="3.0"/><circle cx="177.9" cy="544.2" r="3.0"/><circle cx="190.7" cy="544.6" r="3.0"/><circle cx="193.6" cy="544.2" r="3.0"/><circle cx="196.6" cy="543.8" r="3.0"/><circle cx="203" cy="548.1" r="3.0"/><circle cx="207.7" cy="540.5" r="3.0"/><circle cx="208.8" cy="544.6" r="3.0"/><circle cx="139.1" cy="553.9" r="3.0"/><circle cx="134.7" cy="555.7" r="3.0"/><circle cx="154.5" cy="554.8" r="3.0"/><circle cx="156.9" cy="556.3" r="3.0"/><circle cx="160.9" cy="551.3" r="3.0"/><circle cx="163.3" cy="552.8" r="3.0"/><circle cx="165.6" cy="556.3" r="3.0"/><circle cx="169.1" cy="555.1" r="3.0"/><circle cx="173.8" cy="551.6" r="3.0"/><circle cx="176.7" cy="554.5" r="3.0"/><circle cx="184.3" cy="556.6" r="3.0"/><circle cx="194.8" cy="554.5" r="3.0"/><circle cx="198.9" cy="554.5" r="3.0"/><circle cx="201.8" cy="556.6" r="3.0"/><circle cx="205.9" cy="553.4" r="3.0"/><circle cx="208.2" cy="556.9" r="3.0"/><circle cx="189.9" cy="515.3" r="3.0"/><circle cx="192.3" cy="519.4" r="3.0"/><circle cx="196.4" cy="520.5" r="3.0"/><circle cx="202.4" cy="511.8" r="3.0"/><circle cx="205.1" cy="523.5" r="3.0"/><circle cx="226.1" cy="515.3" r="3.0"/><circle cx="189.6" cy="528.4" r="3.0"/><circle cx="198.9" cy="529" r="3.0"/><circle cx="208.6" cy="540.4" r="3.0"/><circle cx="210.9" cy="543.9" r="3.0"/><circle cx="190.5" cy="543.9" r="3.0"/><circle cx="220.4" cy="556.1" r="3.0"/></g>
<g fill="#FF0000"><circle cx="452" cy="89.7" r="3.0"/><circle cx="321.7" cy="113.4" r="3.0"/><circle cx="564.3" cy="143" r="3.0"/><circle cx="470.1" cy="144.3" r="3.0"/><circle cx="519" cy="152.4" r="3.0"/><circle cx="430.1" cy="153.8" r="3.0"/><circle cx="482.2" cy="163" r="3.0"/><circle cx="414.9" cy="174.8" r="3.0"/><circle cx="422.4" cy="174.8" r="3.0"/><circle cx="451.7" cy="174.5" r="3.0"/><circle cx="430.5" cy="187.8" r="3.0"/><circle cx="460.9" cy="184.1" r="3.0"/><circle cx="510.2" cy="184.6" r="3.0"/><circle cx="406.2" cy="195.7" r="3.0"/><circle cx="336.2" cy="205.3" r="3.0"/><circle cx="364.2" cy="208.5" r="3.0"/><circle cx="424" cy="209.2" r="3.0"/><circle cx="304.4" cy="215" r="3.0"/><circle cx="307" cy="214" r="3.0"/><circle cx="326.9" cy="218.8" r="3.0"/><circle cx="337.1" cy="218.5" r="3.0"/><circle cx="349.1" cy="215.5" r="3.0"/><circle cx="378.7" cy="218.5" r="3.0"/><circle cx="387.8" cy="218.5" r="3.0"/><circle cx="502.2" cy="213.4" r="3.0"/><circle cx="537.1" cy="216.6" r="3.0"/><circle cx="272.9" cy="218.7" r="3.0"/><circle cx="276.2" cy="219.1" r="3.0"/><circle cx="503.8" cy="367.3" r="3.0"/><circle cx="320.8" cy="495.3" r="3.0"/><circle cx="327.3" cy="495.3" r="3.0"/><circle cx="358.8" cy="495.3" r="3.0"/><circle cx="350.2" cy="511.9" r="3.0"/><circle cx="360.7" cy="511.9" r="3.0"/><circle cx="376.9" cy="515.4" r="3.0"/><circle cx="329.6" cy="515.4" r="3.0"/><circle cx="324.7" cy="520.3" r="3.0"/><circle cx="324.7" cy="525.2" r="3.0"/><circle cx="334.8" cy="521.6" r="3.0"/><circle cx="277.9" cy="525.6" r="3.0"/><circle cx="307.7" cy="525.6" r="3.0"/><circle cx="316.4" cy="526.5" r="3.0"/><circle cx="319.1" cy="526.5" r="3.0"/><circle cx="286.6" cy="532.2" r="3.0"/><circle cx="294.9" cy="532.2" r="3.0"/><circle cx="300.1" cy="539.3" r="3.0"/><circle cx="332.2" cy="536.5" r="3.0"/><circle cx="334.5" cy="541" r="3.0"/><circle cx="350.2" cy="535.6" r="3.0"/><circle cx="364.6" cy="541" r="3.0"/><circle cx="277.6" cy="545.1" r="3.0"/><circle cx="298.6" cy="548.4" r="3.0"/><circle cx="309.1" cy="544.3" r="3.0"/><circle cx="307.4" cy="547.8" r="3.0"/><circle cx="327.2" cy="542.5" r="3.0"/><circle cx="325.5" cy="548.4" r="3.0"/><circle cx="336" cy="548.4" r="3.0"/><circle cx="343.6" cy="544.3" r="3.0"/><circle cx="347.7" cy="547.8" r="3.0"/><circle cx="341.8" cy="550.5" r="3.0"/><circle cx="290.4" cy="557.9" r="3.0"/><circle cx="300.9" cy="555.9" r="3.0"/><circle cx="302.7" cy="557.9" r="3.0"/><circle cx="309.1" cy="552.4" r="3.0"/><circle cx="308.5" cy="554.8" r="3.0"/><circle cx="311.5" cy="556.5" r="3.0"/><circle cx="315" cy="553.6" r="3.0"/><circle cx="319" cy="556.5" r="3.0"/><circle cx="324.3" cy="553" r="3.0"/><circle cx="329.6" cy="555.6" r="3.0"/><circle cx="332.5" cy="556.3" r="3.0"/><circle cx="336.6" cy="553" r="3.0"/><circle cx="339.5" cy="556.5" r="3.0"/><circle cx="344.1" cy="544.2" r="3.0"/><circle cx="348" cy="547.9" r="3.0"/><circle cx="352.8" cy="552.6" r="3.0"/><circle cx="357.8" cy="556.9" r="3.0"/><circle cx="373.3" cy="556.9" r="3.0"/><circle cx="331.4" cy="555.8" r="3.0"/><circle cx="339.4" cy="556.6" r="3.0"/><circle cx="335.8" cy="547.9" r="3.0"/><circle cx="426.1" cy="533.7" r="3.0"/><circle cx="428.3" cy="542.8" r="3.0"/><circle cx="474.7" cy="511.9" r="3.0"/><circle cx="455.8" cy="545.5" r="3.0"/><circle cx="443.4" cy="557.2" r="3.0"/><circle cx="475.5" cy="538.5" r="3.0"/><circle cx="475.2" cy="548" r="3.0"/><circle cx="518.5" cy="532.3" r="3.0"/><circle cx="564.7" cy="525.3" r="3.0"/></g>
<g stroke="#FF0000" stroke-width="1.4">
<line x1="564.3" y1="143" x2="564.3" y2="130.4"/>
<line x1="422.4" y1="174.8" x2="434.8" y2="167.3"/>
<line x1="451.7" y1="174.5" x2="466.8" y2="181.1"/>
<line x1="460.9" y1="184.1" x2="476.6" y2="195.5"/>
<line x1="510.2" y1="184.6" x2="526.8" y2="195.1"/>
<line x1="336.2" y1="205.3" x2="349.1" y2="191.7"/>
<line x1="564.7" y1="525.3" x2="564.7" y2="509.7"/>
</g>
<text x="65.7" y="14.5" font-size="12.1" fill="#0000FF">PTGDS</text>
<text x="111.2" y="37.1" font-size="12.1" fill="#0000FF">LRRC26</text>
<text x="81.5" y="151.5" font-size="12.1" fill="#0000FF">CDKN1C</text>
<text x="96.6" y="190" font-size="12.1" fill="#0000FF">FEZ1</text>
<text x="168.2" y="137.8" font-size="12.1" fill="#0000FF">MATK</text>
<text x="204.1" y="164.4" font-size="12.1" fill="#0000FF">CHCHD2</text>
<text x="457.9" y="83.8" font-size="12.1" fill="#FF0000">SLPI</text>
<text x="308" y="107.5" font-size="12.1" fill="#FF0000">SERPINB10</text>
<text x="543.9" y="128" font-size="12.1" fill="#FF0000">OLFM4</text>
<text x="442.9" y="140.3" font-size="12.1" fill="#FF0000">BPI</text>
<text x="517.7" y="146.9" font-size="12.1" fill="#FF0000">ELANE</text>
<text x="394.5" y="148" font-size="12.1" fill="#FF0000">TCN1</text>
<text x="436.7" y="168.5" font-size="12.1" fill="#FF0000">MPO</text>
<text x="488.9" y="168.8" font-size="12.1" fill="#FF0000">CEACAM6</text>
<text x="379" y="168.9" font-size="12.1" fill="#FF0000">OLR1</text>
<text x="468.5" y="187.6" font-size="12.1" fill="#FF0000">CAMP</text>
<text x="328.8" y="189.6" font-size="12.1" fill="#FF0000">OSCAR</text>
<text x="381.9" y="191.3" font-size="12.1" fill="#FF0000">HP</text>
<text x="437" y="200.9" font-size="12.1" fill="#FF0000">PI3</text>
<text x="464.7" y="207.1" font-size="12.1" fill="#FF0000">CTSG</text>
<text x="508.8" y="207.3" font-size="12.1" fill="#FF0000">CEACAM8</text>
<text x="295" y="208.4" font-size="12.1" fill="#FF0000">CCNY</text>
<text x="430.5" y="220.2" font-size="12.1" fill="#FF0000">LTF</text>
<text x="463" y="229.5" font-size="12.1" fill="#FF0000">DEFA4</text>
<text x="537.6" y="231.8" font-size="12.1" fill="#FF0000">DEFA1</text>
<text x="237.9" y="234.6" font-size="12.1" fill="#FF0000">ACOT7</text>
<text x="288.3" y="234.8" font-size="12.1" fill="#FF0000">GAPDH</text>
<text x="340.6" y="234.2" font-size="12.1" fill="#FF0000">MS4A3</text>
<text x="389.2" y="234.2" font-size="12.1" fill="#FF0000">AZU1</text>
<text x="54.9" y="489.6" font-size="12.1" fill="#0000FF">FGFBP2</text>
<text x="129.5" y="489.1" font-size="12.1" fill="#0000FF">SBK1</text>
<text x="46.1" y="551.8" font-size="12.1" fill="#0000FF">KLRD1</text>
<text x="470.9" y="382.6" font-size="12.1" fill="#FF0000">SLPI</text>
<text x="318.7" y="489.6" font-size="12.1" fill="#FF0000">KLHL5</text>
<text x="279.1" y="511.1" font-size="12.1" fill="#FF0000">GAPDH</text>
<text x="365.8" y="505.9" font-size="12.1" fill="#FF0000">PIM3</text>
<text x="381" y="530.5" font-size="12.1" fill="#FF0000">RFX2</text>
<text x="393.6" y="550.1" font-size="12.1" fill="#FF0000">MPO</text>
<text x="449.8" y="507.9" font-size="12.1" fill="#FF0000">PI3</text>
<text x="429.8" y="528" font-size="12.1" fill="#FF0000">OLR1</text>
<text x="474.3" y="532.2" font-size="12.1" fill="#FF0000">CTSG</text>
<text x="431.2" y="554.7" font-size="12.1" fill="#FF0000">BPI</text>
<text x="466.1" y="563" font-size="12.1" fill="#FF0000">CEACAM6</text>
<text x="421.8" y="573.9" font-size="12.1" fill="#FF0000">CAMP</text>
<text x="544.1" y="507.1" font-size="12.1" fill="#FF0000">OLFM4</text>
<text x="517.8" y="526.2" font-size="12.1" fill="#FF0000">ELANE</text>
<path d="M33.6,0.0 V300.4 H590.0" fill="none" stroke="#000" stroke-width="1.1"/><line x1="29.8" y1="286.8" x2="33.6" y2="286.8" stroke="#333" stroke-width="1.1"/><text x="26.5" y="291.9" font-size="12.6" fill="#4D4D4D" text-anchor="end">0</text><line x1="29.8" y1="186.5" x2="33.6" y2="186.5" stroke="#333" stroke-width="1.1"/><text x="26.5" y="191.6" font-size="12.6" fill="#4D4D4D" text-anchor="end">2</text><line x1="29.8" y1="86.3" x2="33.6" y2="86.3" stroke="#333" stroke-width="1.1"/><text x="26.5" y="91.4" font-size="12.6" fill="#4D4D4D" text-anchor="end">4</text><line x1="49.5" y1="300.4" x2="49.5" y2="304.6" stroke="#333" stroke-width="1.1"/><text x="49.5" y="316.6" font-size="12.4" fill="#4D4D4D" text-anchor="middle">-0.50</text><line x1="155.3" y1="300.4" x2="155.3" y2="304.6" stroke="#333" stroke-width="1.1"/><text x="155.3" y="316.6" font-size="12.4" fill="#4D4D4D" text-anchor="middle">-0.25</text><line x1="261.2" y1="300.4" x2="261.2" y2="304.6" stroke="#333" stroke-width="1.1"/><text x="261.2" y="316.6" font-size="12.4" fill="#4D4D4D" text-anchor="middle">0.00</text><line x1="367" y1="300.4" x2="367" y2="304.6" stroke="#333" stroke-width="1.1"/><text x="367" y="316.6" font-size="12.4" fill="#4D4D4D" text-anchor="middle">0.25</text><line x1="472.9" y1="300.4" x2="472.9" y2="304.6" stroke="#333" stroke-width="1.1"/><text x="472.9" y="316.6" font-size="12.4" fill="#4D4D4D" text-anchor="middle">0.50</text><line x1="578.8" y1="300.4" x2="578.8" y2="304.6" stroke="#333" stroke-width="1.1"/><text x="578.8" y="316.6" font-size="12.4" fill="#4D4D4D" text-anchor="middle">0.75</text>
<path d="M33.6,353.8 V653.4 H590.0" fill="none" stroke="#000" stroke-width="1.1"/><line x1="29.8" y1="639.9" x2="33.6" y2="639.9" stroke="#333" stroke-width="1.1"/><text x="26.5" y="645" font-size="12.6" fill="#4D4D4D" text-anchor="end">0</text><line x1="29.8" y1="577.1" x2="33.6" y2="577.1" stroke="#333" stroke-width="1.1"/><text x="26.5" y="582.2" font-size="12.6" fill="#4D4D4D" text-anchor="end">1</text><line x1="29.8" y1="514.3" x2="33.6" y2="514.3" stroke="#333" stroke-width="1.1"/><text x="26.5" y="519.4" font-size="12.6" fill="#4D4D4D" text-anchor="end">2</text><line x1="29.8" y1="451.6" x2="33.6" y2="451.6" stroke="#333" stroke-width="1.1"/><text x="26.5" y="456.7" font-size="12.6" fill="#4D4D4D" text-anchor="end">3</text><line x1="29.8" y1="388.8" x2="33.6" y2="388.8" stroke="#333" stroke-width="1.1"/><text x="26.5" y="393.9" font-size="12.6" fill="#4D4D4D" text-anchor="end">4</text><line x1="56.7" y1="653.4" x2="56.7" y2="657.6" stroke="#333" stroke-width="1.1"/><text x="56.7" y="669.6" font-size="12.4" fill="#4D4D4D" text-anchor="middle">-0.50</text><line x1="159.5" y1="653.4" x2="159.5" y2="657.6" stroke="#333" stroke-width="1.1"/><text x="159.5" y="669.6" font-size="12.4" fill="#4D4D4D" text-anchor="middle">-0.25</text><line x1="262.4" y1="653.4" x2="262.4" y2="657.6" stroke="#333" stroke-width="1.1"/><text x="262.4" y="669.6" font-size="12.4" fill="#4D4D4D" text-anchor="middle">0.00</text><line x1="365.2" y1="653.4" x2="365.2" y2="657.6" stroke="#333" stroke-width="1.1"/><text x="365.2" y="669.6" font-size="12.4" fill="#4D4D4D" text-anchor="middle">0.25</text><line x1="468.1" y1="653.4" x2="468.1" y2="657.6" stroke="#333" stroke-width="1.1"/><text x="468.1" y="669.6" font-size="12.4" fill="#4D4D4D" text-anchor="middle">0.50</text><line x1="570.9" y1="653.4" x2="570.9" y2="657.6" stroke="#333" stroke-width="1.1"/><text x="570.9" y="669.6" font-size="12.4" fill="#4D4D4D" text-anchor="middle">0.75</text>
<text x="311.7" y="335.7" font-size="15.5" fill="#000" text-anchor="middle">logFC</text>
<text x="311.7" y="688.8" font-size="15.5" fill="#000" text-anchor="middle">logFC</text>
<text transform="translate(13,150.6) rotate(-90)" font-size="16.2" fill="#000" text-anchor="middle">-log10(adj.P.Val)</text>
<text transform="translate(13,503.5) rotate(-90)" font-size="16.2" fill="#000" text-anchor="middle">-log10(adj.P.Val)</text>
<text x="3.8" y="14.6" font-size="19.3" font-weight="bold" fill="#000">A)</text>
<text x="4" y="367.8" font-size="19.3" font-weight="bold" fill="#000">B)</text>
<text x="613" y="116.7" font-size="15.6" fill="#000">DEG</text>
<text x="645" y="142.2" font-size="12.6" fill="#000">DOWN</text>
<text x="625" y="142.9" font-size="12" fill="#0000FF" text-anchor="middle">a</text>
<circle cx="625" cy="137.2" r="2.9" fill="#0000FF"/>
<text x="645" y="166.2" font-size="12.6" fill="#000">NS</text>
<text x="625" y="166.9" font-size="12" fill="#BEBEBE" text-anchor="middle">a</text>
<circle cx="625" cy="161.2" r="2.9" fill="#BEBEBE"/>
<text x="645" y="190.2" font-size="12.6" fill="#000">UP</text>
<text x="625" y="190.9" font-size="12" fill="#FF0000" text-anchor="middle">a</text>
<circle cx="625" cy="185.2" r="2.9" fill="#FF0000"/>
<text x="613" y="469.8" font-size="15.6" fill="#000">DEG</text>
<text x="645" y="495.3" font-size="12.6" fill="#000">DOWN</text>
<text x="625" y="496" font-size="12" fill="#0000FF" text-anchor="middle">a</text>
<circle cx="625" cy="490.3" r="2.9" fill="#0000FF"/>
<text x="645" y="519.3" font-size="12.6" fill="#000">NS</text>
<text x="625" y="520" font-size="12" fill="#BEBEBE" text-anchor="middle">a</text>
<circle cx="625" cy="514.3" r="2.9" fill="#BEBEBE"/>
<text x="645" y="543.3" font-size="12.6" fill="#000">UP</text>
<text x="625" y="544" font-size="12" fill="#FF0000" text-anchor="middle">a</text>
<circle cx="625" cy="538.3" r="2.9" fill="#FF0000"/>
</svg></body></html>
